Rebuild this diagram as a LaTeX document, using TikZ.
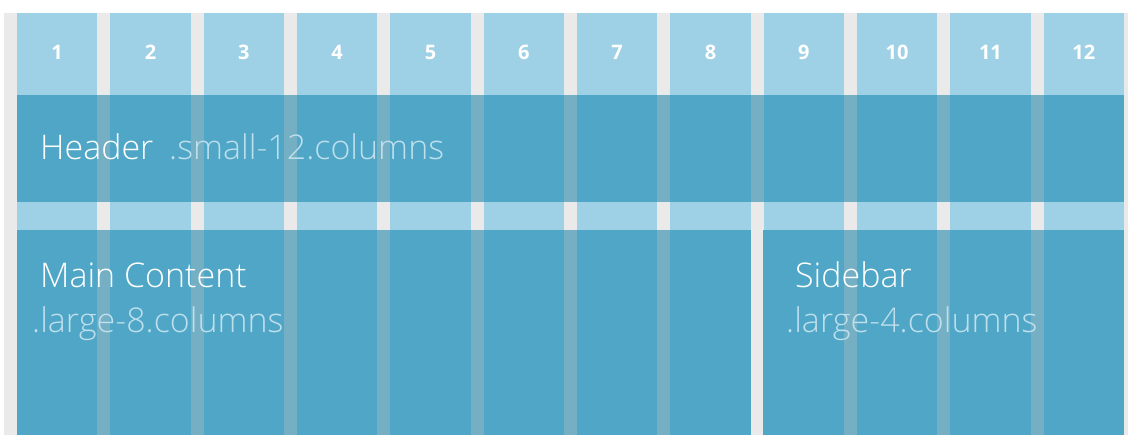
\documentclass[tikz,border=0pt]{standalone}
\usepackage{fontspec}
\setmainfont{Open Sans}
\newfontfamily\thinfont{Open Sans Light}
\usepackage{xcolor}
\usetikzlibrary{positioning}

\definecolor{gridgray}{HTML}{EAEAEA}
\definecolor{collight}{HTML}{9FD1E6}
\definecolor{boxblue}{HTML}{4FA6C6}
\definecolor{guttertint}{HTML}{74AFC4}
\definecolor{classtext}{HTML}{BEDFEC}

\begin{document}
\begin{tikzpicture}[x=1pt, y=-1pt,
    colnum/.style={anchor=base, text=white, inner sep=0pt, font=\bfseries\fontsize{20}{20}\selectfont},
    block/.style={rectangle, fill=boxblue, anchor=north west, inner sep=0pt},
    title/.style={anchor=base west, text=white, inner sep=0pt, font=\thinfont\fontsize{34}{34}\selectfont},
    classname/.style={anchor=base west, text=classtext, inner sep=0pt, font=\thinfont\fontsize{34}{34}\selectfont}
    ]
    \useasboundingbox (0,0) rectangle (1128,435);
    \fill[gridgray] (4,13) rectangle (1128,435);

    % the twelve columns
    \foreach \i in {1,...,12} {
        \pgfmathsetmacro\xl{17+(\i-1)*93.333}
        \fill[collight] (\xl,13) rectangle ++(80.3,422);
        \node[colnum] (n\i) at (\xl+40.15,60) {\i};
    }

    % rows
    \node[block, minimum width=1107, minimum height=107] (header) at (17,95) {};
    \node[block, minimum width=734, minimum height=205] (main) at (17,230) {};
    \node[block, minimum width=361, minimum height=205] (sidebar) at (763,230) {};

    % gutters seen through the blocks
    \foreach \g in {1,...,11} {
        \pgfmathsetmacro\xg{17+\g*93.333-13}
        \fill[guttertint] (\xg,95) rectangle ++(13,107);
    }
    \foreach \g in {1,...,7,9,10,11} {
        \pgfmathsetmacro\xg{17+\g*93.333-13}
        \fill[guttertint] (\xg,230) rectangle ++(13,205);
    }

    \node[title] (headertitle) at (40,160) {Header};
    \node[classname] (headerclass) at (169,160) {.small-12.columns};
    \node[title] (maintitle) at (40,288) {Main Content};
    \node[classname] (mainclass) at (32,333) {.large-8.columns};
    \node[title] (sidetitle) at (795,288) {Sidebar};
    \node[classname] (sideclass) at (786,333) {.large-4.columns};
\end{tikzpicture}
\end{document}
